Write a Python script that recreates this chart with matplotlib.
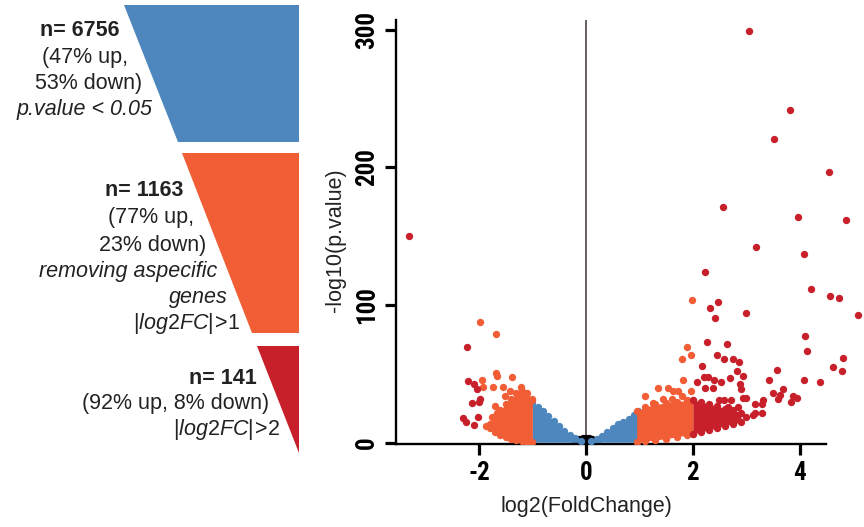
import numpy as np
import matplotlib
matplotlib.use("Agg")
import matplotlib.pyplot as plt
from matplotlib import font_manager

plt.rcParams['font.family'] = ['Liberation Sans', 'DejaVu Sans']
plt.rcParams['mathtext.fontset'] = 'custom'
plt.rcParams['mathtext.rm'] = 'Liberation Sans'
plt.rcParams['mathtext.it'] = 'Liberation Sans:italic'
plt.rcParams['axes.unicode_minus'] = False

# narrow bold font for the tick numbers, first one that is installed
tick_font, tick_stretch = 'Liberation Sans', 'normal'
for fam in ['Liberation Sans Narrow', 'Roboto Condensed', 'Open Sans Condensed',
            'DejaVu Sans Condensed']:
    try:
        font_manager.findfont(font_manager.FontProperties(family=fam, weight='bold'),
                              fallback_to_default=False)
        tick_font = fam
        break
    except Exception:
        continue
if tick_font == 'Liberation Sans':
    try:
        p = font_manager.findfont(font_manager.FontProperties(family='DejaVu Sans', weight='bold',
                                                               stretch='condensed'),
                                  fallback_to_default=False)
        if 'Condensed' in p:
            tick_font, tick_stretch = 'DejaVu Sans', 'condensed'
    except Exception:
        pass

#%% Data
counts = [6756, 1163, 141]
pct_up = [47, 77, 92]
pct_down = [53, 23, 8]

c_blue = '#4e87bd'
c_orange = '#f15d35'
c_red = '#c8202a'
c_ns = '#000000'

# single points
red_x = [3.05, 3.81, 3.51, 4.54, 2.56, 3.96, 4.86, 3.19, 4.07, 2.22, 4.21, 4.56, 4.73, 5.08,
         2.47, 2.32, 2.41, 2.99, 4.09, 4.13, 4.80, 4.62, 4.78, 4.07, 4.37, 2.26, 2.64, 2.45,
         2.58, 2.75, 2.86, 2.17, 2.82, 3.57, 2.93, 3.42, 2.21, 2.28, 2.39, 2.07, 2.52, 2.69,
         2.88, 2.90, 2.22, 2.37, 3.50, 3.68, 3.63, 3.59, 3.87, 3.94, 3.83, 2.99, 2.93, 3.31,
         3.29, 3.16, 2.84, 2.65, 2.49, 2.58, 2.71, 2.39, 3.16, 3.29, 3.12, 2.99, 2.75, 2.79,
         -3.31, -2.22, -2.21, -2.09, -2.04, -1.98, -2.00, -2.13, -2.02, -2.30, -2.24, -2.09]
red_y = [299, 242, 221, 197, 171, 164, 162, 142, 137, 124, 112, 107, 105, 93,
         102, 98, 91, 94, 78, 67, 62, 55, 52, 46, 44, 73, 72, 64,
         61, 61, 59, 56, 52, 53, 49, 46, 48, 48, 46, 44, 44, 47,
         43, 39, 40, 40, 36, 39, 35, 32, 34, 33, 30, 33, 33, 31,
         28, 28, 26, 26, 31, 31, 31, 25, 22, 22, 20, 19, 19, 17,
         150, 70, 45, 43, 39, 32, 30, 29, 19, 18, 15, 13]

orange_x = [-1.98, -1.68, -1.68, -1.66, -1.94, -1.92, -1.74, -1.38, -1.55, -1.51, -1.21,
            -1.18, -1.42, -1.70, -1.76, -1.87, -1.66, -1.01, -1.33,
            1.98, 1.89, 1.96, 1.79, 1.81, 1.35, 1.53, 1.63, 1.72, 1.96, 1.10, 1.44, 1.61,
            1.79, 1.25]
orange_y = [88, 79, 51, 49, 46, 41, 41, 48, 41, 34, 41,
            36, 38, 27, 19, 12, 22, 31, 31,
            104, 70, 64, 61, 46, 40, 40, 38, 38, 38, 34, 32, 32,
            34, 29]

# dense clouds: upper / lower edge
ns_x = [-0.2, -0.12, -0.05, 0.0, 0.05, 0.12, 0.2]
ns_top = [1.8, 3.0, 3.8, 4.0, 3.8, 3.0, 1.8]

blue_l_x = [-1.0, -0.9, -0.8, -0.7, -0.6, -0.5, -0.4, -0.3, -0.2, -0.1]
blue_l_top = [29, 26, 23, 19.5, 16, 12.5, 9, 6, 3.5, 1.5]
blue_r_x = [0.1, 0.2, 0.3, 0.4, 0.5, 0.6, 0.7, 0.8, 0.9, 0.97]
blue_r_top = [1.2, 2.8, 4.8, 8, 11, 13.5, 15.5, 17.5, 20, 23]

orange_l_x = [-1.8, -1.7, -1.6, -1.5, -1.4, -1.3, -1.2, -1.1, -1.0]
orange_l_top = [14, 19, 24, 28, 32, 36, 38, 36, 32]
orange_l_bot = [11, 8, 6, 4.5, 3, 2.2, 1.5, 1, 0.5]
orange_r_x = [0.95, 1.1, 1.3, 1.5, 1.7, 1.9, 2.0]
orange_r_top = [23, 26, 28, 29, 30, 31, 31]
orange_r_bot = [0.5, 1.2, 2.2, 3.2, 4.5, 5.8, 6.5]

red_r_x = [2.0, 2.15, 2.3, 2.45, 2.6, 2.75, 2.9]
red_r_top = [31, 30, 28, 27, 25, 24, 22]
red_r_bot = [6.5, 8, 9.5, 11, 12.5, 14, 15.5]

#%% Figure
W, H = 864, 527
fig = plt.figure(figsize=(W / 100, H / 100), dpi=100)

# left panel in pixel coordinates
ax0 = fig.add_axes([0, 0, 1, 1])
ax0.set_xlim(0, W)
ax0.set_ylim(H, 0)
ax0.axis('off')

# funnel: one slanted edge from (124,5) to (299,453), split into three stages
fx0, fy0, fx1, fy1 = 124, 5, 299, 453
def edge(y):
    return fx0 + (y - fy0) * (fx1 - fx0) / (fy1 - fy0)

stage_top = [5, 153, 346]
stage_bot = [142, 333, 453]
stage_col = [c_blue, c_orange, c_red]
for t, b, c in zip(stage_top, stage_bot, stage_col):
    ax0.fill([edge(t), fx1, fx1, edge(b)], [t, t, b, b], color=c, lw=0)

fs = 15.5
lines = [
    [(f'n= {counts[0]}', 'bold', 'normal', 120, 35.5),
     (f'({pct_up[0]}% up,', 'normal', 'normal', 128, 62.5),
     (f'{pct_down[0]}% down)', 'normal', 'normal', 142, 89.5),
     ('p.value < 0.05', 'normal', 'italic', 153, 115.5)],
    [(f'n= {counts[1]}', 'bold', 'normal', 183, 196.5),
     (f'({pct_up[1]}% up,', 'normal', 'normal', 194, 223.5),
     (f'{pct_down[1]}% down)', 'normal', 'normal', 206, 250.5),
     ('removing aspecific', 'normal', 'italic', 217, 276.5),
     ('genes', 'normal', 'italic', 228, 303.5),
     (r'$|\mathit{log2FC}|\!>\!1$', 'normal', 'normal', 240, 328.5)],
    [(f'n= {counts[2]}', 'bold', 'normal', 257, 384.5),
     (f'({pct_up[2]}% up, {pct_down[2]}% down)', 'normal', 'normal', 269, 409.5),
     (r'$|\mathit{log2FC}|\!>\!2$', 'normal', 'normal', 280, 435.5)],
]
for block in lines:
    for s, w, st, xr, yb in block:
        ax0.text(xr, yb, s, ha='right', va='baseline', fontsize=fs,
                 fontweight=w, fontstyle=st, color='#222222')

# volcano plot
L, R, T, B = 396, 826, 20, 444.4
ax = fig.add_axes([L / W, 1 - B / H, (R - L) / W, (B - T) / H])
ax.set_xlim(-3.55, 4.49)
ax.set_ylim(-1, 307)

ax.axvline(0, color='#5b5352', lw=1.3, zorder=1)

ms = 28
ax.fill_between(ns_x, 0.3, ns_top, color=c_ns, lw=0, zorder=2)
ax.scatter(ns_x, ns_top, s=ms, color=c_ns, lw=0, zorder=2)
for xs, ys in [(blue_l_x, blue_l_top), (blue_r_x, blue_r_top)]:
    ax.fill_between(xs, 0.5, ys, color=c_blue, lw=0, zorder=3)
    ax.scatter(xs, ys, s=ms, color=c_blue, lw=0, zorder=3)
for xs, yt, yb in [(orange_l_x, orange_l_top, orange_l_bot), (orange_r_x, orange_r_top, orange_r_bot)]:
    ax.fill_between(xs, yb, yt, color=c_orange, lw=0, zorder=4)
    ax.scatter(xs, yt, s=ms, color=c_orange, lw=0, zorder=4)
    ax.scatter(xs, yb, s=ms, color=c_orange, lw=0, zorder=4)
ax.scatter(orange_x, orange_y, s=ms, color=c_orange, lw=0, zorder=4, clip_on=False)
ax.fill_between(red_r_x, red_r_bot, red_r_top, color=c_red, lw=0, zorder=5)
ax.scatter(red_r_x, red_r_top, s=ms, color=c_red, lw=0, zorder=5)
ax.scatter(red_r_x, red_r_bot, s=ms, color=c_red, lw=0, zorder=5)
ax.scatter(red_x, red_y, s=ms, color=c_red, lw=0, zorder=5, clip_on=False)

for sp in ['top', 'right']:
    ax.spines[sp].set_visible(False)
for sp in ['left', 'bottom']:
    ax.spines[sp].set_linewidth(1.7)

ax.set_xticks([-2, 0, 2, 4])
ax.set_yticks([0, 100, 200, 300])
ax.tick_params(axis='both', direction='out', length=8, width=2.3, pad=4)
for t in ax.get_xticklabels() + ax.get_yticklabels():
    t.set_fontfamily([tick_font, 'DejaVu Sans'])
    t.set_fontstretch(tick_stretch)
    t.set_fontweight('bold')
    t.set_fontsize(18)
for t in ax.get_yticklabels():
    t.set_rotation(90)
    t.set_va('center')

ax.set_xlabel('log2(FoldChange)', fontsize=fs, color='#222222')
ax.xaxis.set_label_coords((586 - L) / (R - L), -0.122)
ax.set_ylabel('-log10(p.value)', fontsize=fs, color='#222222')
ax.yaxis.set_label_coords((346 - L) / (R - L), (B - 240) / (B - T))

fig.savefig('out.png', dpi=100)
